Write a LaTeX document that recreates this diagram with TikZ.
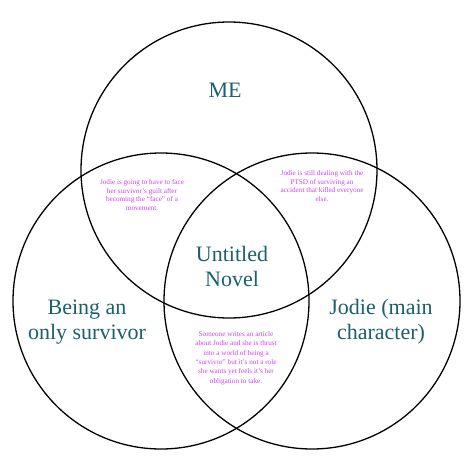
\documentclass[tikz,border=0pt]{standalone}
\usepackage{fontspec}
\setmainfont{Liberation Serif}
\definecolor{teal}{HTML}{1B5F70}
\definecolor{lilac}{HTML}{CC44EE}
\tikzset{
  ring/.style={draw=black, line width=1.3pt},
  big/.style={text=teal, font=\fontsize{22}{25}\selectfont, align=center},
  small/.style={text=lilac, font=\fontsize{7.2}{8.8}\selectfont, align=center},
}
\begin{document}
\begin{tikzpicture}[x=1pt,y=-1pt]
\useasboundingbox (0,0) rectangle (474,474);
\fill[white] (0,0) rectangle (474,474);
\node[ring, circle, minimum size=296pt, inner sep=0pt] (top) at (229,170) {};
\node[ring, circle, minimum size=296pt, inner sep=0pt] (left) at (161,301) {};
\node[ring, circle, minimum size=296pt, inner sep=0pt] (right) at (312,301) {};
\node[big] (me) at (225,90) {ME};
\node[big] (novel) at (232,266) {Untitled\\Novel};
\node[big] (surv) at (87,322) {Being an\\only survivor};
\node[big] (jodie) at (381,322) {Jodie (main\\character)};
\node[small] (t1) at (142,195) {Jodie is going to have to face\\her survivor's guilt after\\becoming the ``face'' of a\\movement.};
\node[small] (t2) at (322,186) {Jodie is still dealing with the\\PTSD of surviving an\\accident that killed everyone\\else.};
\node[small, font=\fontsize{7.2}{9.4}\selectfont] (t3) at (236,358) {Someone writes an article\\about Jodie and she is thrust\\into a world of being a\\``survivor'' but it's not a role\\she wants yet feels it's her\\obligation to take.};
\end{tikzpicture}
\end{document}
